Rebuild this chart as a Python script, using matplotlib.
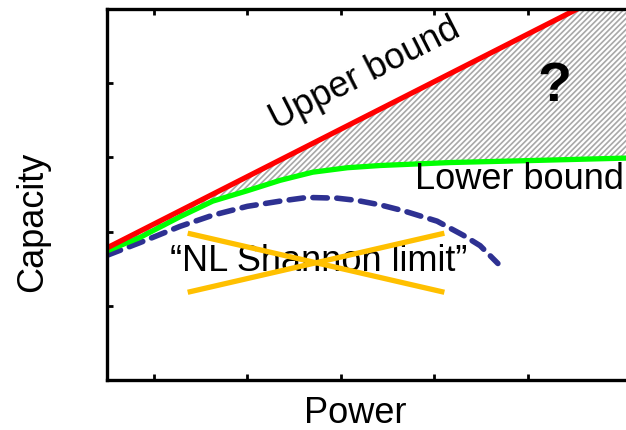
from matplotlib import pyplot as plt
import numpy as np

plt.rcParams['font.family'] = ['Liberation Sans', 'DejaVu Sans']
plt.rcParams['hatch.linewidth'] = 1.2
plt.rcParams['hatch.color'] = '#a8a8a8'

# upper bound: straight line
upper_x = [0.0, 5.03]
upper_y = [1.78, 5.0]

# lower bound: follows the upper bound, then saturates
lower_x = [0.0, 0.35, 0.78, 1.13, 1.5, 1.85, 2.2, 2.57, 2.92, 3.67, 4.63, 5.55]
lower_y = [1.74, 1.92, 2.20, 2.41, 2.55, 2.69, 2.80, 2.86, 2.89, 2.93, 2.96, 2.99]

# "NL Shannon limit" curve
nl_x = [0.0, 0.35, 0.78, 1.13, 1.5, 1.85, 2.14, 2.46, 2.67, 2.92, 3.17, 3.53,
        3.81, 3.99, 4.18]
nl_y = [1.68, 1.85, 2.07, 2.22, 2.34, 2.41, 2.46, 2.45, 2.42, 2.36, 2.28, 2.14,
        1.95, 1.81, 1.57]

# crossing-out strokes
cross_a_x = [0.89, 3.58]
cross_a_y = [1.97, 1.19]
cross_b_x = [0.89, 3.58]
cross_b_y = [1.19, 1.97]

fig = plt.figure(figsize=(6.26, 4.31), dpi=100)
ax = fig.add_axes([0.171, 0.116, 0.829, 0.861])

# gap between the bounds
gx = np.linspace(0.0, 5.55, 400)
slope = (upper_y[1] - upper_y[0]) / (upper_x[1] - upper_x[0])
gu = upper_y[0] + slope * gx
gl = np.interp(gx, lower_x, lower_y)
ax.fill_between(gx, gl, np.minimum(gu, 5.0), where=gu > gl, facecolor='white',
                edgecolor='#a8a8a8', hatch='//////', linewidth=0)

ax.plot(nl_x, nl_y, color='#2e3192', lw=4, ls=(0, (2.6, 1.7)),
        dash_capstyle='round', dash_joinstyle='round')
ax.plot(lower_x, lower_y, color='#00ff00', lw=3.8, solid_joinstyle='round')
ax.plot(upper_x, upper_y, color='#ff0000', lw=3.8)

ax.text(2.26, 1.61, '\u201cNL Shannon limit\u201d', fontsize=26, ha='center', va='center')
# strike-through goes over the label
ax.plot(cross_a_x, cross_a_y, color='#ffc000', lw=3.8, zorder=4)
ax.plot(cross_b_x, cross_b_y, color='#ffc000', lw=3.8, zorder=4)

ax.text(2.76, 4.14, 'Upper bound', fontsize=26, ha='center', va='center', rotation=27)
ax.text(3.29, 2.72, 'Lower bound', fontsize=26, ha='left', va='center')
ax.text(4.79, 3.96, '?', fontsize=40, fontweight='bold', ha='center', va='center')

ax.set_xlim(0, 5.55)
ax.set_ylim(0, 5)
ax.set_xticks([0.5, 1.5, 2.5, 3.5, 4.5])
ax.set_yticks([1, 2, 3, 4])
ax.tick_params(direction='in', length=4, width=2, labelbottom=False, labelleft=False,
               top=True, right=False)
for side in ['left', 'bottom', 'top']:
    ax.spines[side].set_linewidth(2.4)
ax.spines['right'].set_visible(False)

ax.set_xlabel('Power', fontsize=26)
ax.set_ylabel('Capacity', fontsize=26)
ax.xaxis.set_label_coords(0.479, -0.112, transform=ax.transAxes)
ax.yaxis.set_label_coords(-0.143, 0.43, transform=ax.transAxes)
ax.xaxis.label.set_va('baseline')
ax.yaxis.label.set_va('center')

fig.savefig('out.png', dpi=100)
